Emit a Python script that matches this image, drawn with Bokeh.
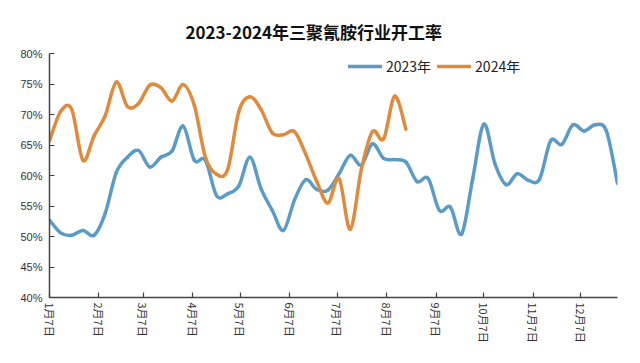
from bokeh.plotting import figure
from bokeh.models import FixedTicker, Legend, LegendItem, Range1d, ColumnDataSource
from bokeh.embed import file_html
from bokeh.resources import INLINE

chart_title = "2023-2024年三聚氰胺行业开工率"
series_names = ["2023年", "2024年"]

# weekly operating rate (%), first point = Jan 7
rate_2023 = [52.7, 50.6, 50.2, 51.0, 50.2, 53.8, 60.5, 63.0, 64.1, 61.4,
             63.0, 64.0, 68.1, 62.5, 62.5, 56.7, 57.0, 58.3, 63.0, 57.8,
             54.3, 51.0, 56.0, 59.3, 57.7, 57.6, 60.3, 63.3, 61.7, 65.2,
             62.8, 62.6, 62.2, 59.0, 59.5, 54.3, 54.8, 50.4, 59.5, 68.4,
             61.9, 58.5, 60.3, 59.2, 59.4, 65.7, 65.1, 68.3, 67.3, 68.3,
             67.3, 58.7]
rate_2024 = [65.7, 70.5, 70.8, 62.5, 66.5, 69.8, 75.3, 71.3, 71.8, 74.8,
             74.4, 72.2, 74.9, 71.5, 63.0, 60.2, 61.0, 70.5, 72.9, 70.8,
             67.0, 66.7, 67.2, 63.5, 59.0, 55.5, 59.5, 51.2, 61.0, 67.2,
             66.0, 73.0, 67.6]

tick_days = [0, 31, 59, 90, 120, 151, 181, 212, 243, 273, 304, 334]
tick_labels = ["1月7日", "2月7日", "3月7日", "4月7日", "5月7日", "6月7日",
               "7月7日", "8月7日", "9月7日", "10月7日", "11月7日", "12月7日"]
y_ticks = [40, 45, 50, 55, 60, 65, 70, 75, 80]
y_labels = ["40%", "45%", "50%", "55%", "60%", "65%", "70%", "75%", "80%"]

colors = ["#5b9bc8", "#e08a3c"]
FONT = "Noto Sans CJK SC"


def smooth_source(vals):
    xs = [7 * i for i in range(len(vals))]
    pts = list(zip(xs, vals))
    n = len(pts)
    d = {k: [] for k in ["x0", "y0", "x1", "y1", "cx0", "cy0", "cx1", "cy1"]}
    for i in range(n - 1):
        pp = pts[i - 1] if i > 0 else pts[i]
        p0 = pts[i]
        p1 = pts[i + 1]
        pn = pts[i + 2] if i + 2 < n else pts[i + 1]
        d["x0"].append(p0[0]); d["y0"].append(p0[1])
        d["x1"].append(p1[0]); d["y1"].append(p1[1])
        d["cx0"].append(p0[0] + (p1[0] - pp[0]) / 6)
        d["cy0"].append(p0[1] + (p1[1] - pp[1]) / 6)
        d["cx1"].append(p1[0] - (pn[0] - p0[0]) / 6)
        d["cy1"].append(p1[1] - (pn[1] - p0[1]) / 6)
    return ColumnDataSource(d)


p = figure(width=624, height=347, output_backend="svg", toolbar_location=None,
           x_range=Range1d(0, 357), y_range=Range1d(40, 80),
           min_border_left=49, min_border_right=7, min_border_top=53,
           min_border_bottom=50, background_fill_color="white",
           border_fill_color="white")
p.outline_line_color = None
p.xgrid.visible = False
p.ygrid.visible = False

p.title.text = chart_title
p.title.text_font = FONT
p.title.text_font_style = "bold"
p.title.text_font_size = "17px"
p.title.align = "left"
p.title.text_color = "#111111"
p.title.offset = 136
p.title.standoff = 20

renderers = []
for vals, col in zip([rate_2023, rate_2024], colors):
    r = p.bezier(x0="x0", y0="y0", x1="x1", y1="y1", cx0="cx0", cy0="cy0",
                 cx1="cx1", cy1="cy1", source=smooth_source(vals),
                 line_color=col, line_width=3.5, line_cap="round")
    renderers.append(r)

legend = Legend(items=[LegendItem(label=n, renderers=[r]) for n, r in zip(series_names, renderers)],
                orientation="horizontal", location=(299, 221),
                border_line_alpha=0, background_fill_alpha=0, padding=0,
                spacing=6, glyph_width=34, glyph_height=20,
                label_text_font=FONT, label_text_font_size="14px",
                label_text_color="#222222", label_standoff=4, margin=0)
p.add_layout(legend)

for ax in (p.xaxis[0], p.yaxis[0]):
    ax.axis_line_color = "#444444"
    ax.axis_line_width = 1.5
    ax.major_tick_line_color = "#444444"
    ax.major_tick_line_width = 1.2
    ax.major_tick_in = 5
    ax.major_tick_out = 0
    ax.minor_tick_line_color = None
    ax.major_label_text_color = "#333333"

p.xaxis.ticker = FixedTicker(ticks=tick_days)
p.xaxis.major_label_overrides = {d: t for d, t in zip(tick_days, tick_labels)}
p.xaxis.major_label_orientation = "vertical"
p.xaxis.major_label_standoff = 5
p.xaxis.major_label_text_font = FONT
p.xaxis.major_label_text_font_size = "11px"

p.yaxis.ticker = FixedTicker(ticks=y_ticks)
p.yaxis.major_label_overrides = {v: t for v, t in zip(y_ticks, y_labels)}
p.yaxis.major_label_standoff = 7
p.yaxis.major_label_text_font = "Liberation Sans"
p.yaxis.major_label_text_font_size = "11px"

open("out.html", "w").write(file_html(p, INLINE))
